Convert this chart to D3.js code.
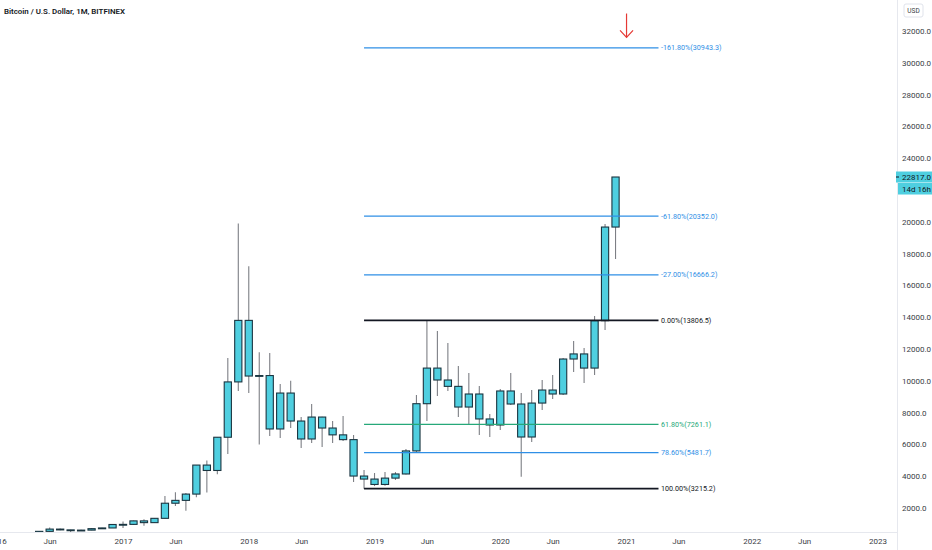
<!DOCTYPE html>
<html>
<head>
<meta charset="utf-8">
<script src="https://cdnjs.cloudflare.com/ajax/libs/d3/7.8.5/d3.min.js"></script>
<style>
  body { margin: 0; background: #fff; }
  svg { display: block; font-family: Roboto, "Liberation Sans", sans-serif; }
</style>
</head>
<body>
<div id="chart-area"></div>
<script>
// monthly candles, Bitfinex BTC/USD, Jan 2016 .. Dec 2020
var months = [
  "2016-01","2016-02","2016-03","2016-04","2016-05","2016-06","2016-07","2016-08","2016-09","2016-10","2016-11","2016-12",
  "2017-01","2017-02","2017-03","2017-04","2017-05","2017-06","2017-07","2017-08","2017-09","2017-10","2017-11","2017-12",
  "2018-01","2018-02","2018-03","2018-04","2018-05","2018-06","2018-07","2018-08","2018-09","2018-10","2018-11","2018-12",
  "2019-01","2019-02","2019-03","2019-04","2019-05","2019-06","2019-07","2019-08","2019-09","2019-10","2019-11","2019-12",
  "2020-01","2020-02","2020-03","2020-04","2020-05","2020-06","2020-07","2020-08","2020-09","2020-10","2020-11","2020-12"
];
var opens = [
  430, 369, 437, 416, 448, 531, 673, 624, 575, 609, 700, 745,
  963, 970, 1190, 1080, 1350, 2300, 2480, 2875, 4700, 4360, 6450, 9930,
  13800, 10300, 10330, 6970, 9230, 7470, 6340, 7720, 7030, 6600, 6300, 4010,
  3820, 3480, 3880, 4140, 5590, 8560, 10800, 10050, 9650, 8350, 9170, 7600,
  7220, 9360, 8540, 6465, 8600, 9420, 9170, 11370, 11690, 10800, 13780, 19670
];
var highs = [
  462, 448, 440, 468, 546, 780, 704, 630, 628, 740, 756, 975,
  1155, 1210, 1290, 1360, 2760, 2990, 2950, 4700, 4980, 6470, 11430, 19900,
  17200, 11800, 11750, 9800, 10000, 7720, 8540, 7740, 7470, 7790, 6590, 4390,
  4200, 4260, 4260, 5710, 9100, 13806, 13130, 12380, 10930, 10490, 9670, 7910,
  9480, 10490, 9230, 9420, 10050, 10360, 11430, 12500, 12060, 14075, 19860, 22817
];
var lows = [
  355, 367, 394, 414, 437, 510, 605, 470, 566, 605, 687, 745,
  750, 930, 890, 1070, 1340, 2120, 1830, 2670, 2970, 4120, 5400, 9360,
  9230, 6000, 6530, 6400, 7030, 5770, 6090, 5840, 6090, 6210, 3635, 3215,
  3380, 3400, 3760, 4100, 5520, 7470, 9040, 9360, 7720, 7280, 6590, 6465,
  6900, 8480, 3970, 6150, 8160, 8855, 9100, 10550, 9860, 10360, 13200, 17660
];
var closes = [
  369, 437, 416, 448, 531, 673, 624, 575, 609, 700, 745, 963,
  970, 1190, 1080, 1350, 2300, 2480, 2875, 4700, 4360, 6450, 9930, 13800,
  10300, 10330, 6970, 9230, 7470, 6340, 7720, 7030, 6600, 6300, 4010, 3820,
  3480, 3880, 4140, 5590, 8560, 10800, 10050, 9650, 8350, 9170, 7600, 7220,
  9360, 8540, 6465, 8600, 9420, 9170, 11370, 11690, 10800, 13780, 19670, 22817
];

// fibonacci retracement drawn Dec 2018 low -> Jun 2019 high
var fibLabels = ["-161.80%", "-61.80%", "-27.00%", "0.00%", "61.80%", "78.60%", "100.00%"];
var fibValues = [30943.3, 20352.0, 16666.2, 13806.5, 7261.1, 5481.7, 3215.2];
var fibColors = ["#2f8fe6", "#2f8fe6", "#2f8fe6", "#131722", "#26a879", "#2f8fe6", "#131722"];
var fibFrom = "2018-12", fibToMonth = 63.1;

var yTicks = d3.range(2000, 32001, 2000);
var years = [2016, 2017, 2018, 2019, 2020, 2021, 2022, 2023];
var lastPrice = 22817.0, countdown = "14d 16h";
var arrowMonth = 60.05, arrowFrom = 33100, arrowTo = 31600;

var W = 932, H = 550, plotW = 897, plotH = 532;

function monthIndex(s) {
    var p = s.split("-");
    return (parseInt(p[0]) - 2016) * 12 + parseInt(p[1]) - 1;
}

function drawChart() {
    var svg = d3.select("#chart-area").append("svg")
        .attr("width", W).attr("height", H);

    var x = d3.scaleLinear().domain([0.26, 85.86]).range([0, plotW]);
    var y = d3.scaleLinear().domain([0, 33950]).range([539.8, 0]);

    svg.append("clipPath").attr("id", "plot-clip")
        .append("rect").attr("width", plotW).attr("height", plotH);

    var plot = svg.append("g").attr("clip-path", "url(#plot-clip)");

    var candles = months.map(function (m, i) {
        return { m: monthIndex(m), o: opens[i], h: highs[i], l: lows[i], c: closes[i] };
    });

    var bw = 7.2;
    // wicks
    plot.selectAll(".wick").data(candles).enter().append("line")
        .attr("x1", d => x(d.m)).attr("x2", d => x(d.m))
        .attr("y1", d => y(d.h)).attr("y2", d => y(d.l))
        .attr("stroke", "#7d7f85").attr("stroke-width", 1.1);
    // bodies
    plot.selectAll(".body").data(candles).enter().append("rect")
        .attr("x", d => x(d.m) - bw / 2)
        .attr("y", d => y(Math.max(d.o, d.c)))
        .attr("width", bw)
        .attr("height", d => Math.max(0.8, Math.abs(y(d.o) - y(d.c))))
        .attr("fill", "#4fcfe0")
        .attr("stroke", "#1b3540").attr("stroke-width", 1.1);

    // fib levels
    var fx1 = x(monthIndex(fibFrom)), fx2 = x(fibToMonth);
    fibValues.forEach(function (v, i) {
        var black = fibColors[i] === "#131722";
        plot.append("line")
            .attr("x1", fx1).attr("x2", fx2)
            .attr("y1", y(v)).attr("y2", y(v))
            .attr("stroke", fibColors[i])
            .attr("stroke-width", black ? 1.8 : 1.3);
        plot.append("text")
            .attr("x", fx2 + 2.5).attr("y", y(v))
            .attr("dy", "0.35em")
            .attr("font-size", 7.2)
            .attr("fill", fibColors[i])
            .text(fibLabels[i] + "(" + v.toFixed(1) + ")");
    });

    // red arrow
    var ax = x(arrowMonth), ay2 = y(arrowTo);
    plot.append("line")
        .attr("x1", ax).attr("x2", ax)
        .attr("y1", y(arrowFrom)).attr("y2", ay2)
        .attr("stroke", "#e53935").attr("stroke-width", 1.2);
    plot.append("path")
        .attr("d", "M" + (ax - 6.5) + "," + (ay2 - 7) + "L" + ax + "," + ay2 + "L" + (ax + 6.5) + "," + (ay2 - 7))
        .attr("fill", "none").attr("stroke", "#e53935").attr("stroke-width", 1.2);

    // right price axis
    var yAxis = d3.axisRight(y).tickValues(yTicks).tickSize(0).tickPadding(5)
        .tickFormat(d3.format(".1f"));
    var gy = svg.append("g").attr("transform", "translate(" + plotW + ",0)").call(yAxis);
    gy.select(".domain").remove();
    gy.selectAll("text").attr("font-size", 8).attr("fill", "#3a3d45")
        .attr("font-family", "Roboto, sans-serif");

    // bottom time axis (only ticks that fall inside the plot)
    var tickVals = [], tickNames = {};
    years.forEach(function (yr) {
        var j = (yr - 2016) * 12;
        tickVals.push(j); tickNames[j] = String(yr);
        tickVals.push(j + 5); tickNames[j + 5] = "Jun";
    });
    tickVals = tickVals.filter(d => x(d) < plotW - 10);
    var xAxis = d3.axisBottom(x).tickValues(tickVals).tickSize(0).tickPadding(6)
        .tickFormat(d => tickNames[d]);
    var gx = svg.append("g").attr("transform", "translate(0," + plotH + ")").call(xAxis);
    gx.select(".domain").remove();
    gx.selectAll("text").attr("font-size", 8).attr("fill", "#3a3d45")
        .attr("font-family", "Roboto, sans-serif");

    // separators
    svg.append("line").attr("x1", 0).attr("x2", plotW).attr("y1", plotH + 0.5).attr("y2", plotH + 0.5)
        .attr("stroke", "#e6e8ee");
    svg.append("line").attr("x1", plotW + 0.5).attr("x2", plotW + 0.5).attr("y1", 0).attr("y2", H)
        .attr("stroke", "#e6e8ee");

    // last price label
    var ly = y(lastPrice);
    svg.append("rect").attr("x", plotW - 1).attr("y", ly - 5.5).attr("width", W - plotW + 1).attr("height", 11)
        .attr("fill", "#4fcfe0");
    svg.append("rect").attr("x", plotW + 1).attr("y", ly + 6).attr("width", W - plotW - 1).attr("height", 11.5)
        .attr("fill", "#4fcfe0");
    svg.append("line").attr("x1", plotW - 1).attr("x2", plotW + 2).attr("y1", ly).attr("y2", ly)
        .attr("stroke", "#131722");
    svg.append("text").attr("x", plotW + 5).attr("y", ly).attr("dy", "0.35em")
        .attr("font-size", 8).attr("fill", "#131722").text(lastPrice.toFixed(1));
    svg.append("text").attr("x", plotW + 5).attr("y", ly + 11.8).attr("dy", "0.35em")
        .attr("font-size", 8).attr("fill", "#131722").text(countdown);

    // currency box
    svg.append("rect").attr("x", 904).attr("y", 4).attr("width", 19).attr("height", 13).attr("rx", 2)
        .attr("fill", "#fff").attr("stroke", "#e0e3eb");
    svg.append("text").attr("x", 913.5).attr("y", 10.5).attr("dy", "0.35em").attr("text-anchor", "middle")
        .attr("font-size", 6.5).attr("fill", "#3a3d45").text("USD");

    // title
    svg.append("text").attr("x", 4).attr("y", 13.5)
        .attr("font-size", 7.9).attr("font-weight", 600).attr("fill", "#131722")
        .text("Bitcoin / U.S. Dollar, 1M, BITFINEX");
}

drawChart();
</script>
</body>
</html>
